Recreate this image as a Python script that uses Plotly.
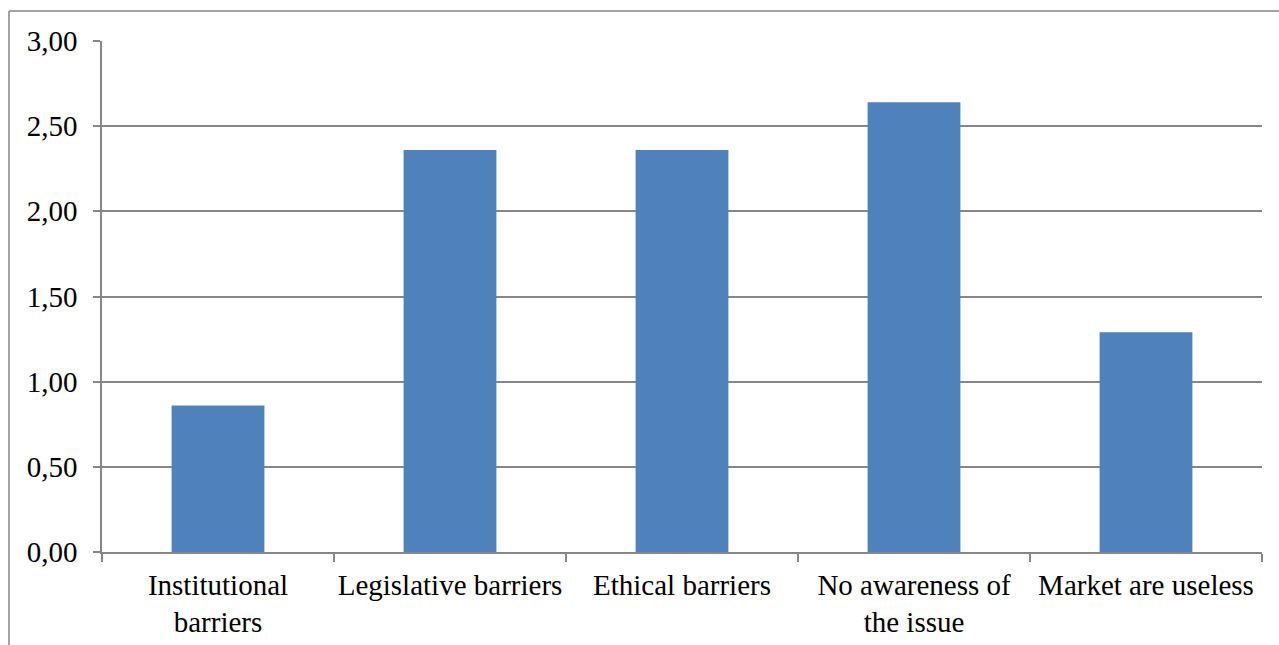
import plotly.graph_objects as go

categories = ["Institutional<br>barriers", "Legislative barriers", "Ethical barriers",
              "No awareness of<br>the issue", "Market are useless"]
values = [0.86, 2.36, 2.36, 2.64, 1.29]
y_ticks = [0, 0.5, 1.0, 1.5, 2.0, 2.5, 3.0]

W, H = 1279, 645
ml, mr, mt, mb = 102, 17, 41, 93
pw, ph = W - ml - mr, H - mt - mb

def px_x(x):
    return (x - ml) / pw

def px_y(y):
    return (H - mb - y) / ph

FONT = "Liberation Serif, Times New Roman, serif"
FS = 29

fig = go.Figure(go.Bar(x=categories, y=values, marker=dict(color="#4F81BD", line=dict(width=0)),
                       width=0.4))

frame = dict(color="#868686", width=1.5)
fig.update_layout(
    width=W, height=H,
    margin=dict(l=ml, r=mr, t=mt, b=mb, pad=0, autoexpand=False),
    paper_bgcolor="white", plot_bgcolor="white",
    separators=", ",
    font=dict(family=FONT, size=FS, color="black"),
    showlegend=False,
    shapes=[
        dict(type="line", xref="paper", yref="paper", layer="above",
             x0=px_x(9), x1=px_x(9), y0=px_y(11), y1=px_y(700), line=frame),
        dict(type="line", xref="paper", yref="paper", layer="above",
             x0=px_x(9), x1=px_x(1290), y0=px_y(11), y1=px_y(11), line=frame),
    ],
)
fig.update_xaxes(
    type="category", tickson="boundaries", ticks="outside", ticklen=8,
    tickcolor="#868686", tickwidth=1.5, tickangle=0, automargin=False,
    ticklabelstandoff=6,
    showline=True, linecolor="#868686", linewidth=1.5,
    showgrid=False, tickfont=dict(size=FS, family=FONT, color="black"),
)
fig.update_yaxes(
    range=[0, 3], tickvals=y_ticks, tickformat=".2f", automargin=False,
    ticks="outside", ticklen=7, tickcolor="#868686", tickwidth=1.5,
    showline=True, linecolor="#868686", linewidth=1.5,
    showgrid=True, gridcolor="#868686", gridwidth=1.5,
    zeroline=False, ticklabelstandoff=10,
    tickfont=dict(size=FS, family=FONT, color="black"),
)

fig.write_html("out.html")
